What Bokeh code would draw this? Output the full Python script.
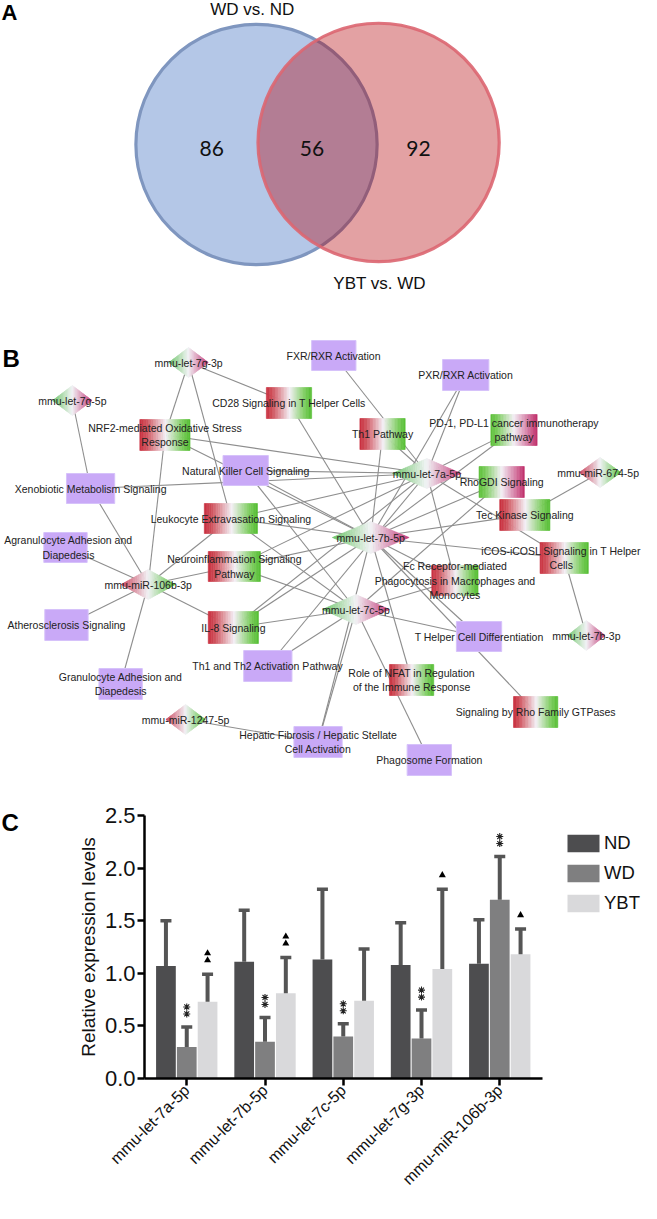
import math
import numpy as np
from bokeh.plotting import figure
from bokeh.models import Range1d, Legend, LegendItem, FixedTicker, NumeralTickFormatter, Title
from bokeh.core.properties import value
from bokeh.embed import file_html
from bokeh.resources import INLINE

# ---------------- DATA ----------------
# Panel A: Venn diagram
venn_sets = ["WD vs. ND", "YBT vs. WD"]
venn_counts = [86, 56, 92]          # WD-vs-ND only, shared, YBT-vs-WD only

# Panel B: miRNA - pathway network
mirna_keys = ["7g3", "7g5", "7a5", "7b5", "7c5", "106b", "674", "7b3", "1247"]
mirna_names = ["mmu-let-7g-3p", "mmu-let-7g-5p", "mmu-let-7a-5p", "mmu-let-7b-5p",
               "mmu-let-7c-5p", "mmu-miR-106b-3p", "mmu-miR-674-5p", "mmu-let-7b-3p",
               "mmu-miR-1247-5p"]
mirna_trend = ["gp", "gp", "gp", "gp", "gp", "rg", "rg", "gp", "rg"]

path_keys = ["FXR", "PXR", "CD28", "Th1", "PD1", "NRF2", "NK", "Xeno", "Leuk", "Agran",
             "Neuro", "RhoGDI", "Tec", "iCOS", "Fc", "Ather", "IL8", "THelp", "Th1Th2",
             "Gran", "NFAT", "Rho", "Hepat", "Phago"]
path_names = ["FXR/RXR Activation", "PXR/RXR Activation", "CD28 Signaling in T Helper Cells",
              "Th1 Pathway", "PD-1, PD-L1 cancer immunotherapy\npathway",
              "NRF2-mediated Oxidative Stress\nResponse", "Natural Killer Cell Signaling",
              "Xenobiotic Metabolism Signaling", "Leukocyte Extravasation Signaling",
              "Agranulocyte Adhesion and\nDiapedesis", "Neuroinflammation Signaling\nPathway",
              "RhoGDI Signaling", "Tec Kinase Signaling", "iCOS-iCOSL Signaling in T Helper\nCells",
              "Fc Receptor-mediated\nPhagocytosis in Macrophages and\nMonocytes",
              "Atherosclerosis Signaling", "IL-8 Signaling", "T Helper Cell Differentiation",
              "Th1 and Th2 Activation Pathway", "Granulocyte Adhesion and\nDiapedesis",
              "Role of NFAT in Regulation\nof the Immune Response",
              "Signaling by Rho Family GTPases",
              "Hepatic Fibrosis / Hepatic Stellate\nCell Activation", "Phagosome Formation"]
path_trend = ["none", "none", "rg", "rg", "gp", "rg", "none", "none", "rg", "none",
              "rg", "gp", "rg", "rg", "rg", "none", "rg", "none", "none",
              "none", "rg", "rg", "none", "none"]

edges = [
    ("7g5", "Xeno"),
    ("7g3", "CD28"), ("7g3", "NRF2"), ("7g3", "Leuk"),
    ("106b", "NRF2"), ("106b", "Xeno"), ("106b", "Agran"), ("106b", "Leuk"), ("106b", "Neuro"),
    ("106b", "IL8"), ("106b", "Ather"), ("106b", "Gran"),
    ("7a5", "FXR"), ("7a5", "PXR"), ("7a5", "Th1"), ("7a5", "PD1"), ("7a5", "NRF2"), ("7a5", "NK"),
    ("7a5", "Xeno"), ("7a5", "Leuk"), ("7a5", "Neuro"), ("7a5", "IL8"), ("7a5", "Th1Th2"),
    ("7a5", "RhoGDI"), ("7a5", "iCOS"), ("7a5", "Fc"),
    ("7b5", "PXR"), ("7b5", "PD1"), ("7b5", "CD28"), ("7b5", "Th1"), ("7b5", "NRF2"), ("7b5", "NK"),
    ("7b5", "Leuk"), ("7b5", "Neuro"), ("7b5", "IL8"), ("7b5", "RhoGDI"), ("7b5", "Tec"),
    ("7b5", "iCOS"), ("7b5", "THelp"), ("7b5", "NFAT"), ("7b5", "Rho"), ("7b5", "Hepat"), ("7b5", "Fc"),
    ("7c5", "NK"), ("7c5", "Leuk"), ("7c5", "Neuro"), ("7c5", "IL8"), ("7c5", "Th1Th2"),
    ("7c5", "RhoGDI"), ("7c5", "Fc"), ("7c5", "THelp"), ("7c5", "Phago"), ("7c5", "Hepat"),
    ("674", "Tec"), ("7b3", "iCOS"), ("1247", "Hepat"),
]

# Panel C: qPCR relative expression
genes = ["mmu-let-7a-5p", "mmu-let-7b-5p", "mmu-let-7c-5p", "mmu-let-7g-3p", "mmu-miR-106b-3p"]
groups = ["ND", "WD", "YBT"]
nd_mean = [1.07, 1.11, 1.13, 1.08, 1.09]
nd_upper = [1.50, 1.60, 1.80, 1.48, 1.51]
wd_mean = [0.30, 0.35, 0.40, 0.38, 1.70]
wd_upper = [0.49, 0.58, 0.52, 0.65, 2.11]
ybt_mean = [0.73, 0.81, 0.74, 1.04, 1.18]
ybt_upper = [0.99, 1.15, 1.23, 1.80, 1.42]
wd_stars = [2, 2, 2, 2, 2]        # "**" vs ND
ybt_triangles = [2, 2, 0, 1, 1]   # triangles vs WD

# ---------------- LAYOUT (pixel positions of the reference) ----------------
FONT = "Liberation Sans"
node_pos = {
    "7g3": (193, 370, 40, 30), "7g5": (75, 408, 40, 30), "7a5": (435, 481, 70, 30),
    "7b5": (378, 545, 78, 32), "7c5": (363, 617, 68, 30), "106b": (152, 592, 55, 30),
    "674": (611, 480, 42, 30), "7b3": (597, 643, 38, 30), "1247": (190, 727, 40, 30),
    "FXR": (340.5, 363, 45, 30), "PXR": (474.5, 382.5, 47, 31), "CD28": (295, 410.5, 46, 31),
    "Th1": (390, 441.5, 46, 31), "PD1": (523.5, 437.5, 47, 31), "NRF2": (169, 442.5, 51, 31),
    "NK": (251, 478, 46, 30), "Xeno": (93.5, 496, 49, 30), "Leuk": (236, 526, 54, 30),
    "Agran": (68, 555, 44, 30), "Neuro": (239.5, 574, 53, 30), "RhoGDI": (511, 489.5, 46, 31),
    "Tec": (534.5, 522.5, 51, 31), "iCOS": (574.5, 565.5, 49, 31), "Fc": (463.5, 588, 47, 30),
    "Ather": (69, 632.5, 44, 31), "IL8": (238.5, 635, 51, 32), "THelp": (488, 644, 46, 30),
    "Th1Th2": (273.5, 673.5, 49, 31), "Gran": (124, 691.5, 44, 31), "NFAT": (419.5, 687.5, 45, 31),
    "Rho": (545.5, 719.5, 45, 31), "Hepat": (324.5, 749.5, 49, 31), "Phago": (437.5, 767.5, 45, 31),
}
label_shift = {"674": (-2, 0), "iCOS": (-3, 0), "Agran": (3, 0)}

BOX_STOPS = {
    "rg": [(0, (200, 45, 60)), (0.15, (208, 85, 95)), (0.52, (244, 240, 246)),
           (0.85, (125, 205, 95)), (1, (85, 190, 50))],
    "gp": [(0, (90, 192, 55)), (0.15, (125, 205, 95)), (0.5, (244, 240, 246)),
           (0.85, (208, 105, 150)), (1, (192, 45, 105))],
}
DIA_STOPS = {
    "gp": [(0, (105, 195, 100)), (0.5, (242, 244, 246)), (1, (195, 55, 120))],
    "rg": [(0, (200, 60, 85)), (0.5, (242, 242, 246)), (1, (90, 195, 65))],
}
PURPLE = "#c9a9f7"


def interp(stops, t):
    for (t0, c0), (t1, c1) in zip(stops[:-1], stops[1:]):
        if t <= t1:
            f = (t - t0) / (t1 - t0)
            return "#%02x%02x%02x" % tuple(int(round(c0[k] + (c1[k] - c0[k]) * f)) for k in range(3))
    return "#%02x%02x%02x" % stops[-1][1]


def blank_fig(w, h, xr, yr):
    f = figure(width=w, height=h, x_range=Range1d(*xr), y_range=Range1d(*yr),
               output_backend="svg", toolbar_location=None, x_axis_type=None,
               y_axis_type=None, min_border=0, title=None)
    f.grid.visible = False
    f.outline_line_color = None
    return f


# ---------------- PANEL A ----------------
pa = blank_fig(641, 310, (2, 653), (318, 2))
pa.ellipse(x=[262], y=[148.8], width=245, height=245, fill_color="#b4c7e7",
           line_color="#7f96bf", line_width=3.2)
pa.ellipse(x=[386], y=[146.7], width=245, height=243, fill_color="#b40005", fill_alpha=0.37,
           line_color="#dc6671", line_alpha=0.9, line_width=3.2)
pa.text(x=[216.6, 318.4, 426.5], y=[152.7] * 3, text=[str(v) for v in venn_counts],
        text_align="center", text_baseline="middle", text_font=value("Lato"),
        text_font_size="21px", text_color="#111111")
pa.text(x=[257.6, 387], y=[11.5, 290], text=venn_sets, text_align="center",
        text_baseline="middle", text_font=value(FONT), text_font_size="17px",
        text_color="#111111")
pa.text(x=[3], y=[14.5], text=["A"], text_align="left", text_baseline="middle",
        text_font=value(FONT), text_font_style="bold", text_font_size="22px", text_color="#000000")

# ---------------- PANEL B ----------------
pb = blank_fig(641, 482, (2, 653), (800, 318))

ex0, ey0, ex1, ey1 = [], [], [], []
for a, b in edges:
    ex0.append(node_pos[a][0]); ey0.append(node_pos[a][1])
    ex1.append(node_pos[b][0]); ey1.append(node_pos[b][1])
pb.segment(x0=ex0, y0=ey0, x1=ex1, y1=ey1, line_color="#8e8e8e", line_width=1.1)

N = 30
ql, qr, qt, qb, qc = [], [], [], [], []
pl, pr, pt, pbm = [], [], [], []
for key, trend in zip(path_keys, path_trend):
    cx, cy, w, h = node_pos[key]
    if trend == "none":
        pl.append(cx - w / 2); pr.append(cx + w / 2); pt.append(cy - h / 2); pbm.append(cy + h / 2)
        continue
    xs = np.linspace(cx - w / 2, cx + w / 2, N + 1)
    for i in range(N):
        ql.append(xs[i]); qr.append(xs[i + 1]); qt.append(cy - h / 2); qb.append(cy + h / 2)
        qc.append(interp(BOX_STOPS[trend], (i + 0.5) / N))
pb.quad(left=pl, right=pr, top=pt, bottom=pbm, fill_color=PURPLE, line_color="#d6c2fa", line_width=1)
pb.quad(left=ql, right=qr, top=qt, bottom=qb, fill_color=qc, line_color=qc, line_width=0.6)

dx, dy, dc = [], [], []
for key, trend in zip(mirna_keys, mirna_trend):
    cx, cy, w, h = node_pos[key]
    xs = np.linspace(cx - w / 2, cx + w / 2, N + 1)
    for i in range(N):
        xa, xb = xs[i], xs[i + 1]
        ha = (h / 2) * (1 - abs(xa - cx) / (w / 2))
        hb = (h / 2) * (1 - abs(xb - cx) / (w / 2))
        dx.append([xa, xb, xb, xa]); dy.append([cy - ha, cy - hb, cy + hb, cy + ha])
        dc.append(interp(DIA_STOPS[trend], (i + 0.5) / N))
pb.patches(xs=dx, ys=dy, fill_color=dc, line_color=dc, line_width=0.6)

tx, ty, tt = [], [], []
LINE = 14.6
for key, name in list(zip(mirna_keys, mirna_names)) + list(zip(path_keys, path_names)):
    cx, cy = node_pos[key][:2]
    sx, sy = label_shift.get(key, (0, 0))
    lines = name.split("\n")
    for j, ln in enumerate(lines):
        tx.append(cx + sx)
        ty.append(cy + sy + (j - (len(lines) - 1) / 2) * LINE)
        tt.append(ln)
pb.text(x=tx, y=ty, text=tt, text_align="center", text_baseline="middle",
        text_font=value(FONT), text_font_size="10.5px", text_color="#222222")
pb.text(x=[4], y=[366], text=["B"], text_align="left", text_baseline="middle",
        text_font=value(FONT), text_font_style="bold", text_font_size="24px", text_color="#000000")

# ---------------- PANEL C ----------------
PPU = 263 / 2.5        # frame pixels per y unit
pc = figure(width=641, height=411, x_range=Range1d(-0.54, -0.54 + 497 / 78.25),
            y_range=Range1d(0, 2.5), output_backend="svg", toolbar_location=None,
            min_border_left=144, min_border_right=0, min_border_top=23,
            min_border_bottom=125, title=None)
pc.grid.visible = False
pc.outline_line_color = None

idx = np.arange(len(genes))
offs = [-0.266, 0.0, 0.266]
colors = ["#4d4d4f", "#7f7f80", "#d9d9db"]
means = [nd_mean, wd_mean, ybt_mean]
uppers = [nd_upper, wd_upper, ybt_upper]
renderers = []
for off, col, m in zip(offs, colors, means):
    renderers.append(pc.vbar(x=idx + off, top=m, width=0.252, fill_color=col, line_color=None))
for off, m, u in zip(offs, means, uppers):
    pc.segment(x0=idx + off, y0=m, x1=idx + off, y1=u, line_color="#555555", line_width=4)
    pc.scatter(x=idx + off, y=u, marker="dash", size=11, line_color="#555555", line_width=3.5)

sx, sy = [], []
for i, n in enumerate(wd_stars):
    for k in range(n):
        sx.append(i + offs[1]); sy.append(wd_upper[i] + (13 + 7 * k) / PPU)
pc.scatter(x=sx, y=sy, marker="asterisk", size=7, line_color="#222222", line_width=1.1)
tx2, ty2 = [], []
for i, n in enumerate(ybt_triangles):
    for k in range(n):
        tx2.append(i + offs[2]); ty2.append(ybt_upper[i] + (14 + 7 * k) / PPU)
pc.scatter(x=tx2, y=ty2, marker="triangle", size=7, fill_color="#000000", line_color=None)

pc.xaxis.ticker = FixedTicker(ticks=list(range(len(genes))))
pc.xaxis.major_label_overrides = {i: g for i, g in enumerate(genes)}
pc.xaxis.major_label_orientation = math.pi / 4
pc.xaxis.major_label_text_font = FONT
pc.xaxis.major_label_text_font_size = "16px"
pc.xaxis.major_label_text_color = "#111111"
pc.xaxis.major_label_standoff = 2
pc.xaxis.bounds = (-0.54, 4.545)
pc.yaxis.ticker = FixedTicker(ticks=[0, 0.5, 1.0, 1.5, 2.0, 2.5])
pc.yaxis.formatter = NumeralTickFormatter(format="0.0")
for ax in (pc.xaxis[0], pc.yaxis[0]):
    ax.axis_line_width = 2.5
    ax.axis_line_color = "#000000"
    ax.major_tick_line_width = 2.5
    ax.major_tick_line_color = "#000000"
    ax.major_tick_out = 7
    ax.major_tick_in = 0
    ax.minor_tick_line_color = None
pc.yaxis.major_label_text_font = FONT
pc.yaxis.major_label_text_font_size = "22px"
pc.yaxis.major_label_text_color = "#111111"
pc.yaxis.major_label_standoff = 2
pc.yaxis.axis_label = "Relative expression levels"
pc.yaxis.axis_label_text_font = FONT
pc.yaxis.axis_label_text_font_size = "19px"
pc.yaxis.axis_label_text_font_style = "normal"
pc.yaxis.axis_label_text_color = "#111111"
pc.yaxis.axis_label_standoff = 3

pc.add_layout(Title(text="C", align="left", offset=-143, standoff=-40, vertical_align="bottom",
                    text_font=FONT, text_font_style="bold", text_font_size="24px",
                    text_color="#000000"), "above")

legend = Legend(items=[LegendItem(label=g, renderers=[r]) for g, r in zip(groups, renderers)],
                location=(419, 164.5), glyph_width=40, glyph_height=22, spacing=8,
                padding=0, margin=0, label_standoff=1, border_line_color=None,
                background_fill_alpha=0, label_text_font=FONT, label_text_font_size="18.5px",
                label_text_color="#111111")
pc.add_layout(legend)

open("out.html", "w").write(file_html([pa, pb, pc], INLINE))
